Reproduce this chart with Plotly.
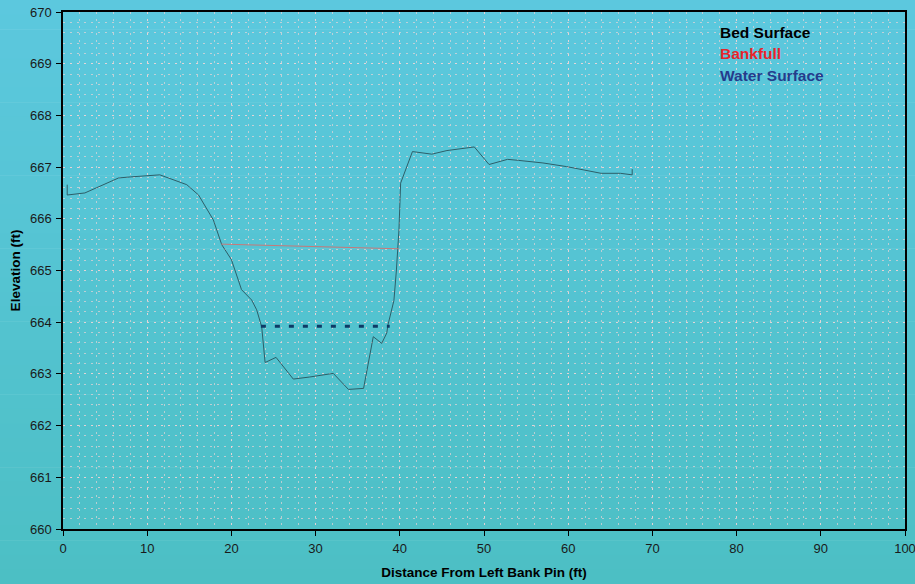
import plotly.graph_objects as go

# Bed surface profile (distance ft, elevation ft)
bed_x = [0.5, 0.5, 2.6, 6.6, 8.0, 11.5, 14.7, 16.1, 17.85, 18.85, 20.0, 21.2, 22.4, 23.0, 23.6, 24.0,
         25.3, 27.35, 29.3, 32.1, 33.9, 35.7, 36.85, 37.85, 38.45, 38.6, 39.3, 39.6, 39.9, 40.1,
         41.5, 43.8, 45.6, 48.85, 50.6, 52.8, 54.1, 57.0, 59.8, 63.9, 66.2, 67.6, 67.6]
bed_y = [666.66, 666.46, 666.50, 666.79, 666.81, 666.85, 666.66, 666.46, 665.98, 665.50, 665.21,
         664.63, 664.43, 664.24, 663.91, 663.22, 663.32, 662.90, 662.94, 663.01, 662.70, 662.72,
         663.72, 663.59, 663.79, 663.95, 664.42, 665.01, 665.79, 666.69, 667.30, 667.25, 667.32,
         667.39, 667.05, 667.15, 667.13, 667.08, 667.01, 666.88, 666.88, 666.85, 666.96]

bank_x = [18.8, 39.9]
bank_y = [665.51, 665.42]

water_x = [23.5, 38.8]
water_y = [663.92, 663.92]

legend_labels = ["Bed Surface", "Bankfull", "Water Surface"]
legend_colors = ["#000000", "#E8242A", "#243C8C"]

x_ticks = list(range(0, 101, 10))
y_ticks = list(range(660, 671, 1))

fig = go.Figure()
fig.add_trace(go.Scatter(x=bed_x, y=bed_y, mode="lines",
                         line=dict(color="#2E5E68", width=1), showlegend=False))
fig.add_trace(go.Scatter(x=bank_x, y=bank_y, mode="lines",
                         line=dict(color="rgb(200,120,120)", width=1), showlegend=False))
fig.add_trace(go.Scatter(x=water_x, y=water_y, mode="lines",
                         line=dict(color="#0E3A66", width=3, dash="5px,9px"), showlegend=False))

# gradient background bands
W, H = 915, 584
L, R, T, B = 63, 10, 12, 55
pw, ph = W - L - R, H - T - B
top_c = (92, 200, 222)
bot_c = (76, 191, 196)
n = 40
shapes = []
for i in range(n):
    f0 = i / n
    f1 = (i + 1) / n
    fm = (f0 + f1) / 2
    c = tuple(round(top_c[k] + (bot_c[k] - top_c[k]) * fm) for k in range(3))
    y_top_px = f0 * H - (1 if i == 0 else 0)
    y_bot_px = f1 * H + 0.5
    shapes.append(dict(type="rect", xref="paper", yref="paper", layer="below",
                       x0=-L / pw - 0.01, x1=1 + R / pw + 0.01,
                       y0=(H - B - y_bot_px) / ph, y1=(H - B - y_top_px) / ph,
                       fillcolor="rgb(%d,%d,%d)" % c, line=dict(width=0)))

annotations = []
for i, (lab, col) in enumerate(zip(legend_labels, legend_colors)):
    annotations.append(dict(text="<b>%s</b>" % lab, xref="paper", yref="paper",
                            x=0.778, y=0.960 - i * 0.041, xanchor="left", yanchor="middle",
                            showarrow=False, font=dict(family="Liberation Sans, Arial", size=15.5, color=col)))

gcol = "rgba(255,215,215,0.6)"
grid = dict(showgrid=True, gridcolor=gcol, gridwidth=1, griddash="2px,5px")

fig.update_layout(
    width=W, height=H,
    margin=dict(l=L, r=R, t=T, b=B, autoexpand=False),
    paper_bgcolor="rgba(0,0,0,0)",
    plot_bgcolor="rgba(0,0,0,0)",
    shapes=shapes,
    annotations=annotations,
    font=dict(family="Liberation Sans, Arial", size=13, color="#1a1a1a"),
    xaxis=dict(range=[0, 100], tickvals=x_ticks, ticks="outside", ticklen=5, tickcolor="black",
               showline=True, linecolor="black", linewidth=1.5, mirror=True, zeroline=False,
               ticklabelstandoff=2, automargin=False, ticklabeloverflow="allow",
               title=dict(text="<b>Distance From Left Bank Pin (ft)</b>", font=dict(size=13.5, color="black"), standoff=12),
               minor=dict(dtick=2, tick0=0, showgrid=True, gridcolor=gcol, griddash="2px,5px"),
               **grid),
    yaxis=dict(range=[660, 670], tickvals=y_ticks, ticks="outside", ticklen=5, tickcolor="black",
               showline=True, linecolor="black", linewidth=1.5, mirror=True, zeroline=False,
               ticklabelstandoff=2, automargin=False,
               title=dict(text="<b>Elevation (ft)</b>", font=dict(size=13.5, color="black"), standoff=6),
               minor=dict(dtick=0.2, tick0=660, showgrid=True, gridcolor=gcol, griddash="2px,5px"),
               **grid),
)

fig.write_html("out.html", config={"displayModeBar": False},
               post_script="document.body.style.margin='0';document.body.style.padding='0';")
